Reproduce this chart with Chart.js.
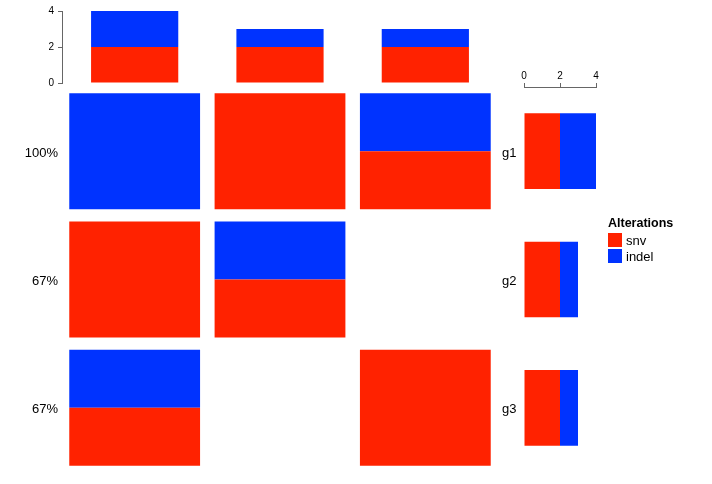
<!DOCTYPE html>
<html>
<head>
<meta charset="utf-8">
<script src="https://cdn.jsdelivr.net/npm/chart.js@4.4.1/dist/chart.umd.min.js"></script>
<style>
  html,body{margin:0;padding:0;background:#fff;}
  #wrap{position:relative;width:712px;height:484px;overflow:hidden;font-family:"Liberation Sans",Arial,sans-serif;}
  canvas{position:absolute;left:0;top:0;}
  #legend{position:absolute;left:608px;top:216px;font-size:13px;color:#000;}
  #legend .title{font-weight:bold;font-size:12.5px;margin-bottom:2px;}
  #legend .item{display:flex;align-items:center;height:16px;}
  #legend .sw{width:14px;height:14px;margin-right:4px;}
</style>
</head>
<body>
<div id="wrap">
  <canvas id="main" width="712" height="484"></canvas>
  <canvas id="top" width="712" height="95"></canvas>
  <canvas id="right" width="712" height="484"></canvas>
  <div id="legend">
    <div class="title">Alterations</div>
    <div class="item"><div class="sw" style="background:#FF2200"></div>snv</div>
    <div class="item"><div class="sw" style="background:#0033FF"></div>indel</div>
  </div>
</div>
<script>
// ---- data ----
const samples = ['s1', 's2', 's3'];
const genes = ['g1', 'g2', 'g3'];
const pctLabels = ['100%', '67%', '67%'];
// alteration matrices: rows = genes, columns = samples (1 = altered)
const snv   = [[0, 1, 1], [1, 1, 0], [1, 0, 1]];
const indel = [[1, 0, 1], [0, 1, 0], [1, 0, 0]];
const typeNames = ['snv', 'indel'];

// ---- styles ----
const RED = '#FF2200', BLUE = '#0033FF', AXIS = '#666';
const FONT = 'Liberation Sans';

// counts
const sampleSnv = samples.map((_, j) => genes.reduce((a, _, i) => a + snv[i][j], 0));
const sampleIndel = samples.map((_, j) => genes.reduce((a, _, i) => a + indel[i][j], 0));
const geneSnv = genes.map((_, i) => snv[i].reduce((a, b) => a + b, 0));
const geneIndel = genes.map((_, i) => indel[i].reduce((a, b) => a + b, 0));

// ---- main oncoprint grid ----
const m = 0.048;
const mainDatasets = [];
genes.forEach((g, i) => {
  const snvData = samples.map((_, j) => {
    if (!snv[i][j]) return null;
    return indel[i][j] ? [i + 0.5, i + 1 - m] : [i + m, i + 1 - m];
  });
  const indelData = samples.map((_, j) => {
    if (!indel[i][j]) return null;
    return snv[i][j] ? [i + m, i + 0.5] : [i + m, i + 1 - m];
  });
  mainDatasets.push({label: typeNames[0] + ' ' + g, data: snvData, backgroundColor: RED});
  mainDatasets.push({label: typeNames[1] + ' ' + g, data: indelData, backgroundColor: BLUE});
});
const rowTicks = s => { s.ticks = genes.map((_, i) => ({value: i + 0.5})); };

new Chart(document.getElementById('main'), {
  type: 'bar',
  data: {labels: samples, datasets: mainDatasets},
  options: {
    responsive: false, animation: false,
    layout: {padding: {top: 87, bottom: 12, left: 0, right: 0}},
    datasets: {bar: {grouped: false, categoryPercentage: 0.9, barPercentage: 1, borderWidth: 0}},
    plugins: {legend: {display: false}, tooltip: {enabled: false}},
    scales: {
      x: {display: false},
      y: {
        position: 'left', min: 0, max: 3, reverse: true,
        afterFit: s => { s.width = 62; },
        afterBuildTicks: rowTicks,
        grid: {display: false, drawTicks: false}, border: {display: false},
        ticks: {padding: 4, labelOffset: 2, color: '#000', font: {family: FONT, size: 13}, callback: (v, i) => pctLabels[i]}
      },
      y2: {
        position: 'right', min: 0, max: 3, reverse: true,
        afterFit: s => { s.width = 214; },
        afterBuildTicks: rowTicks,
        grid: {display: false, drawTicks: false}, border: {display: false},
        ticks: {padding: 4, labelOffset: 2, color: '#000', font: {family: FONT, size: 13}, callback: (v, i) => genes[i]}
      }
    }
  }
});

// ---- top annotation bar chart ----
new Chart(document.getElementById('top'), {
  type: 'bar',
  data: {labels: samples, datasets: [
    {label: 'snv', data: sampleSnv, backgroundColor: RED},
    {label: 'indel', data: sampleIndel, backgroundColor: BLUE}
  ]},
  options: {
    responsive: false, animation: false,
    layout: {padding: {top: 11, bottom: 12, left: 0, right: 214}},
    datasets: {bar: {categoryPercentage: 0.6, barPercentage: 1, borderWidth: 0}},
    plugins: {legend: {display: false}, tooltip: {enabled: false}},
    scales: {
      x: {display: false, stacked: true},
      y: {
        stacked: true, min: 0, max: 4,
        afterFit: s => { s.width = 62; },
        grid: {display: true, drawOnChartArea: false, drawTicks: true, tickLength: 4, color: AXIS},
        border: {display: true, color: AXIS, width: 1},
        ticks: {stepSize: 2, padding: 4, color: '#000', font: {family: FONT, size: 10}}
      }
    }
  }
});

// ---- right annotation bar chart ----
new Chart(document.getElementById('right'), {
  type: 'bar',
  data: {labels: genes, datasets: [
    {label: 'snv', data: geneSnv, backgroundColor: RED},
    {label: 'indel', data: geneIndel, backgroundColor: BLUE}
  ]},
  options: {
    indexAxis: 'y',
    responsive: false, animation: false,
    layout: {padding: {top: 0, bottom: 12, left: 524, right: 116}},
    datasets: {bar: {categoryPercentage: 0.59, barPercentage: 1, borderWidth: 0}},
    plugins: {legend: {display: false}, tooltip: {enabled: false}},
    scales: {
      y: {display: false, stacked: true},
      x: {
        position: 'top', stacked: true, min: 0, max: 4,
        afterFit: s => { s.height = 87; },
        grid: {display: true, drawOnChartArea: false, drawTicks: true, tickLength: 4, color: AXIS},
        border: {display: true, color: AXIS, width: 1},
        ticks: {stepSize: 2, padding: 1, maxRotation: 0, color: '#000', font: {family: FONT, size: 10}}
      }
    }
  }
});
</script>
</body>
</html>
